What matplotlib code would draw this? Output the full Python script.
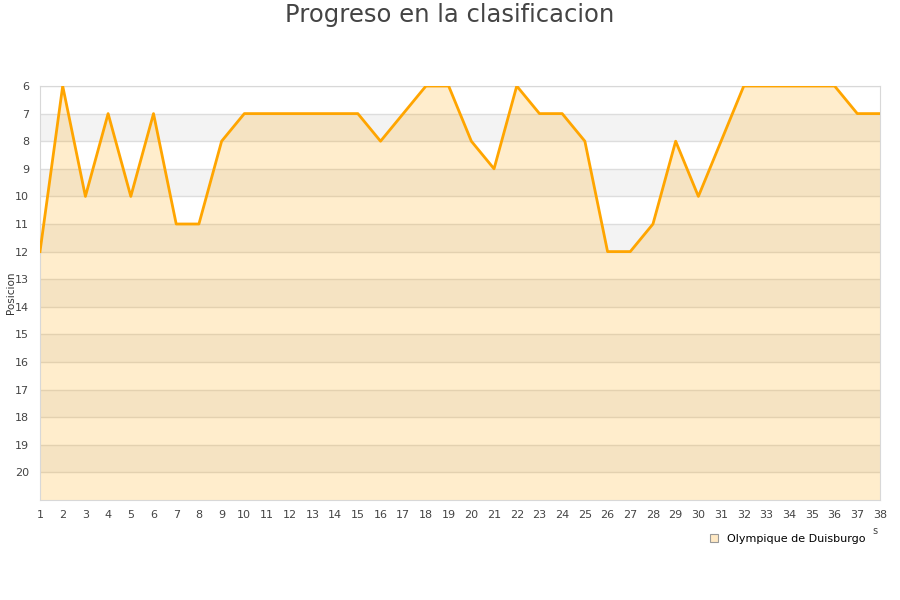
import matplotlib.pyplot as plt
from matplotlib.patches import Patch

jornadas = list(range(1, 39))
posiciones = [12, 6, 10, 7, 10, 7, 11, 11, 8, 7, 7, 7, 7, 7, 7, 8, 7, 6, 6, 8,
              9, 6, 7, 7, 8, 12, 12, 11, 8, 10, 8, 6, 6, 6, 6, 6, 7, 7]
equipo = "Olympique de Duisburgo"
titulo = "Progreso en la clasificacion"

fig = plt.figure(figsize=(9, 6), dpi=100)
ax = fig.add_axes([40 / 900, 1 - 500 / 600, 840 / 900, 414 / 600])

y_min, y_max = 6, 21
# alternating bands (grey on odd rows starting at 7)
for y in range(y_min, y_max):
    if (y - 7) % 2 == 0:
        ax.axhspan(y, y + 1, color='#f3f3f3', lw=0, zorder=0)
for y in range(y_min, y_max):
    ax.axhline(y, color='#dddddd', lw=1, zorder=1)

ax.fill_between(jornadas, posiciones, y_max, color='#ffa500', alpha=0.2, lw=0, zorder=2)
ax.plot(jornadas, posiciones, color='#ffa500', lw=2, zorder=3)

ax.set_xlim(1, 38)
ax.set_ylim(y_max, y_min)
ax.set_xticks(jornadas)
ax.set_yticks(range(6, 21))
ax.tick_params(length=0, labelsize=8, labelcolor='#444444')
ax.tick_params(axis='x', pad=7)
ax.tick_params(axis='y', pad=8)
for s in ax.spines.values():
    s.set_color('#d8d8d8')

fig.text(11 / 900, 1 - 293 / 600, "Posicion", rotation=90, ha='center', va='center',
         fontsize=7.5, color='#333333')
fig.text(0.5, 1 - 15 / 600, titulo, ha='center', va='center', fontsize=17.5, color='#444444')
fig.text(875 / 900, 1 - 531 / 600, "s", ha='center', va='center', fontsize=7, color='#444444')

handle = Patch(facecolor='#ffe9c4', edgecolor='#999999', lw=0.8)
fig.legend([handle], [equipo], loc='center left', bbox_to_anchor=(700 / 900, 1 - 539 / 600),
           frameon=False, fontsize=8, handlelength=0.7, handleheight=0.7, handletextpad=0.8)

fig.savefig("out.png", dpi=100)
